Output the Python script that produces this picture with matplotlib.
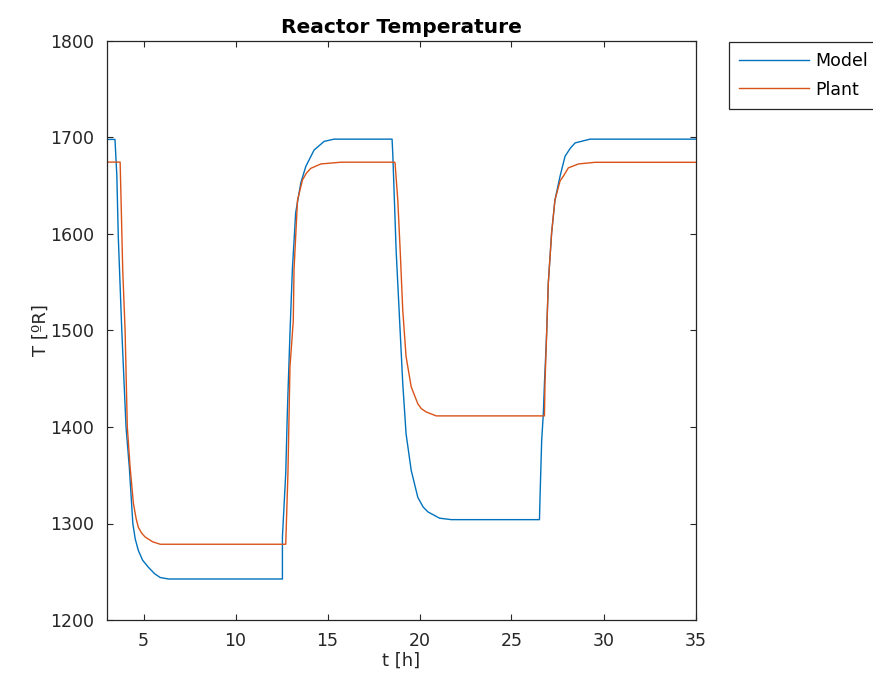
import matplotlib
matplotlib.use("Agg")
import matplotlib.pyplot as plt

# Model (blue) trace: time [h], temperature [ºR]
model_t = [3.0, 3.45, 3.55, 3.63, 3.82, 4.05, 4.23, 4.42, 4.55, 4.72, 4.95, 5.25, 5.6, 5.91, 6.36,
           12.55, 12.55, 12.73, 12.82, 12.96, 13.09, 13.27, 13.55, 13.82, 14.27, 14.82, 15.36,
           18.51, 18.55, 18.73, 18.91, 19.09, 19.27, 19.55, 19.91, 20.2, 20.46, 21.09, 21.73,
           26.52, 26.55, 26.64, 26.73, 26.79, 26.91, 27.0, 27.18, 27.36, 27.64, 27.91, 28.2, 28.46, 29.27,
           35.0]
model_T = [1698, 1698, 1661, 1597, 1500, 1400, 1358, 1300, 1284, 1272, 1262, 1255, 1248, 1244, 1242.5,
           1242.5, 1286, 1352, 1417, 1497, 1563, 1622, 1653, 1670, 1687, 1696, 1698.3,
           1698.3, 1682, 1583, 1514, 1445, 1393, 1355, 1327, 1317, 1312, 1305.5, 1304,
           1304, 1327, 1386, 1414, 1445, 1497, 1549, 1601, 1635, 1660, 1680.5, 1689, 1694.4, 1698.3,
           1698.3]

# Plant (orange) trace
plant_t = [3.0, 3.73, 3.80, 3.87, 4.0, 4.12, 4.27, 4.45, 4.6, 4.72, 4.9, 5.09, 5.5, 5.91,
           12.73, 12.85, 12.96, 13.14, 13.18, 13.37, 13.64, 13.85, 14.09, 14.64, 15.73,
           18.64, 18.67, 18.82, 18.95, 19.09, 19.27, 19.55, 19.91, 20.1, 20.36, 20.91,
           26.79, 26.82, 26.91, 27.0, 27.18, 27.36, 27.64, 27.82, 28.09, 28.64, 29.55,
           35.0]
plant_T = [1674.5, 1674.5, 1620, 1563, 1500, 1400, 1359, 1321, 1305, 1296, 1290, 1286, 1281, 1278.5,
           1278.5, 1352, 1462, 1510, 1563, 1635, 1656, 1663, 1668, 1672.6, 1674.4,
           1674.4, 1674, 1635, 1583, 1521, 1473, 1441.5, 1424, 1419, 1415.6, 1411.5,
           1411.5, 1445, 1497, 1549, 1601, 1635, 1655, 1660, 1668.5, 1672.6, 1674.3,
           1674.3]

series_labels = ["Model", "Plant"]
x_ticks = [5, 10, 15, 20, 25, 30, 35]
y_ticks = [1200, 1300, 1400, 1500, 1600, 1700, 1800]

plt.rcParams['font.family'] = ['DejaVu Sans']

fig = plt.figure(figsize=(8.73, 6.96), dpi=100)
ax = fig.add_axes([106.7 / 873, 1 - 620 / 696, (695.5 - 106.7) / 873, (620 - 41) / 696])

blue = '#0072BD'
orange = '#D95319'
l1, = ax.plot(model_t, model_T, color=blue, lw=1.0, label=series_labels[0])
l2, = ax.plot(plant_t, plant_T, color=orange, lw=1.0, label=series_labels[1])

ax.set_xlim(3, 35)
ax.set_ylim(1200, 1800)
ax.set_xticks(x_ticks)
ax.set_yticks(y_ticks)

axc = '#262626'
for sp in ax.spines.values():
    sp.set_color(axc)
    sp.set_linewidth(0.9)
ax.tick_params(direction='in', top=True, right=True, length=4, width=0.8,
               colors=axc, labelsize=12.5, labelcolor=axc)
ax.tick_params(axis='y', pad=9)
ax.tick_params(axis='x', pad=9)

ax.set_title("Reactor Temperature", fontsize=14.5, fontweight='bold', color='black', pad=6)
ax.set_xlabel("t [h]", fontsize=13, color=axc, labelpad=1)
ax.set_ylabel("T [ºR]", fontsize=13, color=axc, labelpad=0)

leg = fig.legend(handles=[l1, l2], labels=series_labels, loc='upper left',
                 bbox_to_anchor=(729 / 873, 1 - 41.7 / 696), bbox_transform=fig.transFigure,
                 fontsize=12.5, handlelength=4.0, handletextpad=0.35, labelspacing=0.6,
                 borderpad=0.6, fancybox=False, framealpha=1, edgecolor=axc,
                 borderaxespad=0)
leg.get_frame().set_linewidth(0.9)

fig.savefig("out.png", dpi=100, facecolor='white')
